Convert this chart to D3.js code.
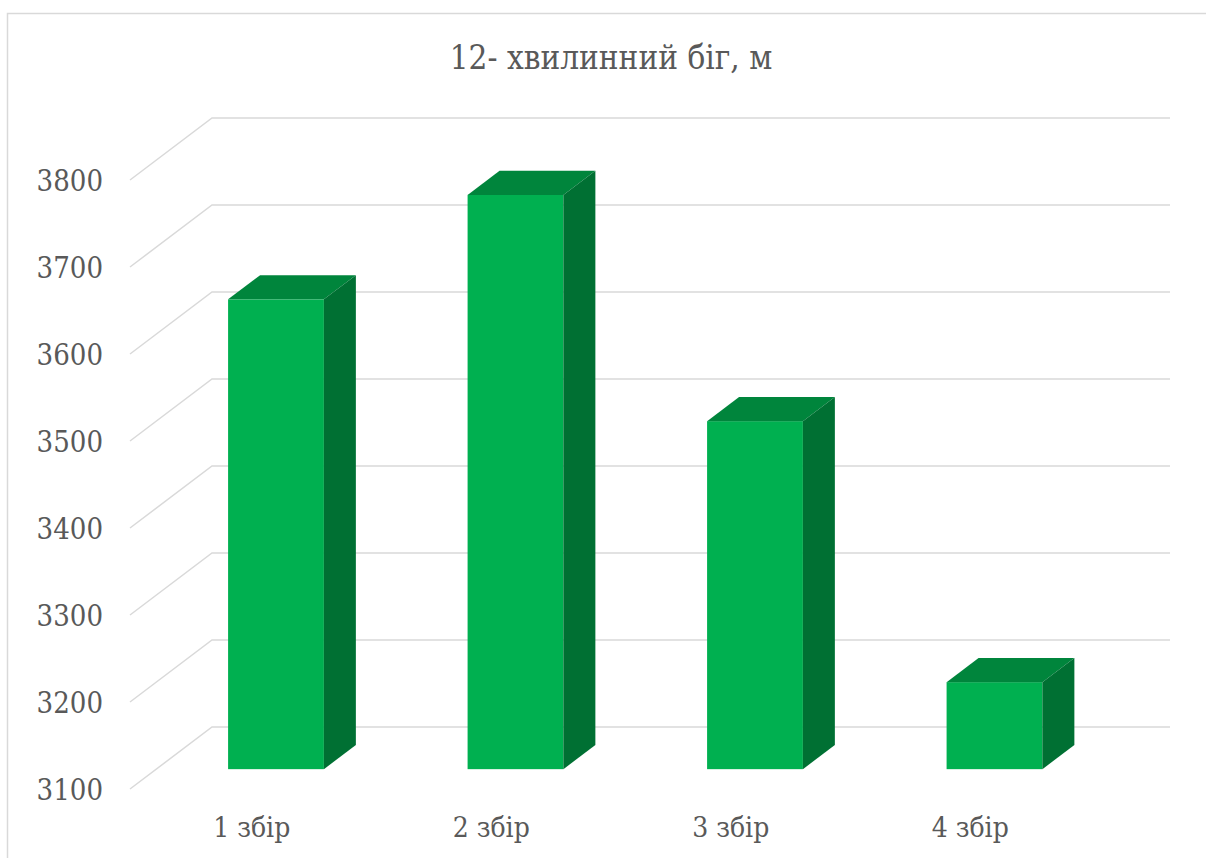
<!DOCTYPE html>
<html>
<head>
<meta charset="utf-8">
<script src="https://cdn.jsdelivr.net/npm/d3@7/dist/d3.min.js"></script>
<style>
  html, body { margin: 0; padding: 0; background: #fff; }
  svg { display: block; }
  .lbl { font-family: "DejaVu Serif Condensed", "DejaVu Serif", serif; font-stretch: condensed; fill: #595959; }
</style>
</head>
<body>
<svg id="chart" width="1206" height="858"></svg>
<script>
// 12-minute run distance per training camp
const title = "12- хвилинний біг, м";
const categories = ["1 збір", "2 збір", "3 збір", "4 збір"];
const distances = [3640, 3760, 3500, 3200];
const tickValues = [3100, 3200, 3300, 3400, 3500, 3600, 3700, 3800];

const svg = d3.select("#chart");

// Chart frame
svg.append("rect")
  .attr("x", 7.5).attr("y", 13.5)
  .attr("width", 1220).attr("height", 870)
  .attr("fill", "#fff")
  .attr("stroke", "#d9d9d9")
  .attr("stroke-width", 1.5);

// Front plane of the plot area and the oblique depth offset
const front = { left: 130, right: 1088 };
const depth = { dx: 82, dy: -62 };

const x = d3.scaleBand()
  .domain(categories)
  .range([front.left, front.right])
  .paddingInner(0.6)
  .paddingOuter(0.3);

const y = d3.scaleLinear()
  .domain([3100, 3800])
  .range([789, 180]);

// Gridlines: diagonal along the side wall, then horizontal along the back wall
const grid = svg.append("g").attr("fill", "none").attr("stroke", "#d9d9d9").attr("stroke-width", 1.5);
tickValues.forEach(v => {
  const yf = y(v);
  grid.append("path").attr("d", d3.line()([
    [front.left, yf],
    [front.left + depth.dx, yf + depth.dy],
    [front.right + depth.dx, yf + depth.dy]
  ]));
});

// Value axis labels
svg.append("g").selectAll("text")
  .data(tickValues)
  .join("text")
  .attr("class", "lbl")
  .attr("x", 103)
  .attr("y", d => y(d) + 11)
  .attr("text-anchor", "end")
  .attr("font-size", 29)
  .text(d => d);

// Category labels
svg.append("g").selectAll("text")
  .data(categories)
  .join("text")
  .attr("class", "lbl")
  .attr("x", d => x(d) + x.bandwidth() / 2 + 2)
  .attr("y", 837)
  .attr("text-anchor", "middle")
  .attr("font-size", 28)
  .text(d => d);

// 3D columns: the box sits between depth fractions d0 and d1
const d0 = 0.32, d1 = 0.71;
const ox = depth.dx * d0, oy = depth.dy * d0;
const bx = depth.dx * (d1 - d0), by = depth.dy * (d1 - d0);

const bars = svg.append("g").selectAll("g")
  .data(categories.map((c, i) => ({ c, v: distances[i] })))
  .join("g");

bars.each(function (d) {
  const g = d3.select(this);
  const xl = x(d.c) + ox, xr = xl + x.bandwidth();
  const yt = y(d.v) + oy, yb = y(3100) + oy;
  // front face
  g.append("rect")
    .attr("x", xl).attr("y", yt)
    .attr("width", xr - xl).attr("height", yb - yt)
    .attr("fill", "#00b050");
  // top face
  g.append("path")
    .attr("d", d3.line()([[xl, yt], [xl + bx, yt + by], [xr + bx, yt + by], [xr, yt]]) + "Z")
    .attr("fill", "#00853c");
  // side face
  g.append("path")
    .attr("d", d3.line()([[xr, yt], [xr + bx, yt + by], [xr + bx, yb + by], [xr, yb]]) + "Z")
    .attr("fill", "#007033");
});

// Title
svg.append("text")
  .attr("class", "lbl")
  .attr("x", 611)
  .attr("y", 69)
  .attr("text-anchor", "middle")
  .attr("font-size", 33)
  .text(title);
</script>
</body>
</html>
